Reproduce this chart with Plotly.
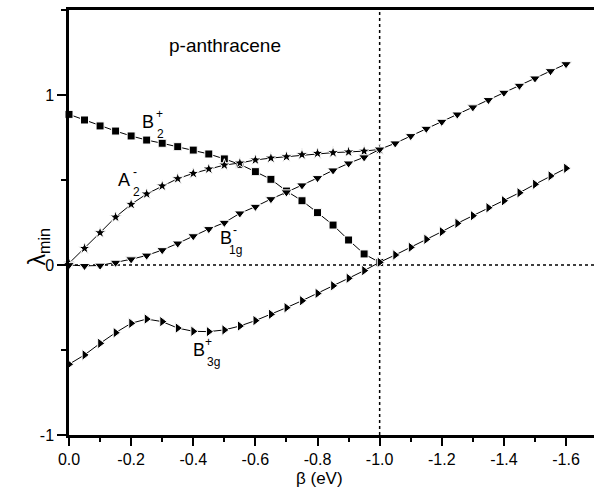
import plotly.graph_objects as go

# beta grid (eV), step 0.05
beta_short = [0.0, -0.05, -0.10, -0.15, -0.20, -0.25, -0.30, -0.35, -0.40, -0.45,
              -0.50, -0.55, -0.60, -0.65, -0.70, -0.75, -0.80, -0.85, -0.90, -0.95, -1.00]
beta_long = beta_short + [-1.05, -1.10, -1.15, -1.20, -1.25, -1.30, -1.35, -1.40,
                          -1.45, -1.50, -1.55, -1.60]

b2_plus = [0.886, 0.853, 0.818, 0.788, 0.759, 0.735, 0.716, 0.696, 0.676, 0.653,
           0.624, 0.592, 0.549, 0.504, 0.435, 0.378, 0.308, 0.235, 0.147, 0.065, 0.015]
a2_minus = [0.010, 0.098, 0.190, 0.282, 0.357, 0.418, 0.465, 0.508, 0.539, 0.565,
            0.588, 0.600, 0.618, 0.629, 0.637, 0.649, 0.657, 0.661, 0.665, 0.670, 0.680]
b1g_minus = [0.000, -0.005, -0.003, 0.014, 0.034, 0.056, 0.088, 0.127, 0.170, 0.212,
             0.249, 0.304, 0.343, 0.388, 0.428, 0.469, 0.512, 0.557, 0.598, 0.634, 0.680,
             0.716, 0.759, 0.802, 0.843, 0.886, 0.928, 0.971, 1.014, 1.055, 1.098, 1.141, 1.182]
b3g_plus = [-0.584, -0.529, -0.461, -0.398, -0.343, -0.318, -0.333, -0.371, -0.390, -0.392,
            -0.382, -0.359, -0.327, -0.290, -0.251, -0.210, -0.167, -0.122, -0.078, -0.033, 0.016,
            0.059, 0.104, 0.151, 0.196, 0.245, 0.290, 0.337, 0.378, 0.425, 0.475, 0.524, 0.569]

x_tick_vals = [0.0, -0.2, -0.4, -0.6, -0.8, -1.0, -1.2, -1.4, -1.6]
x_tick_text = ["0.0", "-0.2", "-0.4", "-0.6", "-0.8", "-1.0", "-1.2", "-1.4", "-1.6"]
y_tick_vals = [-1, 0, 1]
y_tick_text = ["-1", "0", "1"]

FONT = "Liberation Sans, Arial, sans-serif"

fig = go.Figure()


def add_series(x, y, symbol, size):
    fig.add_trace(go.Scatter(
        x=x, y=y, mode="lines+markers",
        line=dict(color="black", width=1),
        marker=dict(symbol=symbol, size=size, color="black",
                    line=dict(color="white", width=1)),
        cliponaxis=False, showlegend=False,
    ))


add_series(beta_short, b2_plus, "square", 8)
add_series(beta_short, a2_minus, "star", 9)
add_series(beta_long, b1g_minus, "triangle-down", 9.5)
add_series(beta_long, b3g_plus, "triangle-right", 9.5)

# dotted reference lines at lambda = 0 and beta = -1.0 eV
fig.add_shape(type="line", xref="paper", yref="y", x0=0, x1=1, y0=0, y1=0,
              line=dict(color="black", width=1.5, dash="dot"), layer="below")
fig.add_shape(type="line", xref="x", yref="paper", x0=-1.0, x1=-1.0, y0=0, y1=1,
              line=dict(color="black", width=1.5, dash="dot"), layer="below")


def state_label(x, y, main, sup, sub, dx_sup, dx_sub):
    fig.add_annotation(x=x, y=y, text=main, showarrow=False,
                       font=dict(family=FONT, size=18, color="black"))
    fig.add_annotation(x=x, y=y, text=sup, showarrow=False, xshift=dx_sup, yshift=8,
                       font=dict(family=FONT, size=12, color="black"))
    fig.add_annotation(x=x, y=y, text=sub, showarrow=False, xshift=dx_sub, yshift=-12,
                       font=dict(family=FONT, size=12, color="black"))


state_label(-0.255, 0.84, "B", "+", "2", 11, 12)
state_label(-0.178, 0.50, "A", "-", "2", 11, 12)
state_label(-0.505, 0.16, "B", "-", "1g", 9, 10)
state_label(-0.420, -0.50, "B", "+", "3g", 9, 14)

fig.add_annotation(x=-0.502, y=1.29, text="p-anthracene", showarrow=False,
                   font=dict(family=FONT, size=19, color="black"))

# axis titles
fig.add_annotation(xref="paper", yref="paper", x=0.477, y=-0.103, yanchor="middle",
                   text="β (eV)", showarrow=False,
                   font=dict(family=FONT, size=17, color="black"))
fig.add_annotation(xref="paper", yref="paper", x=-0.090, y=0.442, textangle=-90,
                   text="λ<sub>min</sub>", showarrow=False,
                   font=dict(family=FONT, size=23, color="black"))

fig.update_xaxes(
    range=[0, -1.69], tickvals=x_tick_vals, ticktext=x_tick_text,
    ticks="outside", ticklen=8, tickwidth=1.5, tickcolor="black",
    showline=True, linewidth=2.5, linecolor="black", mirror=True,
    showgrid=False, zeroline=False,
    tickfont=dict(family=FONT, size=16, color="black"),
    minor=dict(dtick=0.1, tick0=0, ticks="outside", ticklen=4, tickwidth=1.5,
               tickcolor="black", showgrid=False),
)
fig.update_yaxes(
    range=[-1, 1.5], tickvals=y_tick_vals, ticktext=y_tick_text,
    ticks="outside", ticklen=9, tickwidth=1.5, tickcolor="black",
    showline=True, linewidth=2.5, linecolor="black", mirror=False,
    showgrid=False, zeroline=False,
    tickfont=dict(family=FONT, size=16, color="black"),
    minor=dict(dtick=0.5, tick0=0, ticks="outside", ticklen=5, tickwidth=1.5,
               tickcolor="black", showgrid=False),
)

fig.update_layout(
    width=594, height=489,
    margin=dict(l=69, r=0, t=10, b=54),
    paper_bgcolor="white", plot_bgcolor="white",
    font=dict(family=FONT, color="black"),
)

fig.write_html("out.html")
